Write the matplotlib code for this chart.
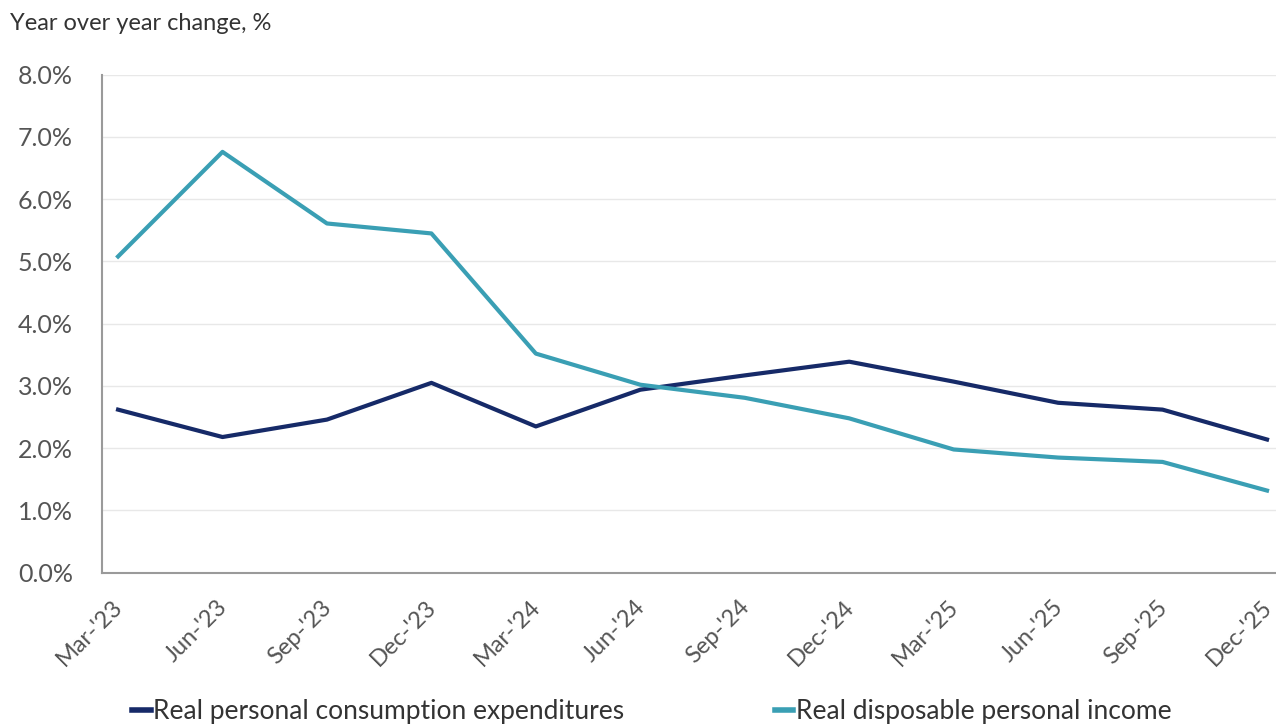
import matplotlib.pyplot as plt
from matplotlib.transforms import ScaledTranslation

# Quarterly year-over-year changes, %
quarters = ["Mar-'23", "Jun-'23", "Sep-'23", "Dec-'23", "Mar-'24", "Jun-'24",
            "Sep-'24", "Dec-'24", "Mar-'25", "Jun-'25", "Sep-'25", "Dec-'25"]
pce = [2.62, 2.18, 2.46, 3.05, 2.35, 2.94, 3.17, 3.39, 3.07, 2.73, 2.62, 2.14]
dpi_income = [5.08, 6.76, 5.61, 5.45, 3.52, 3.02, 2.81, 2.48, 1.98, 1.85, 1.78, 1.32]

navy = '#162a68'
teal = '#3a9fb4'

plt.rcParams['font.family'] = ['Lato', 'DejaVu Sans']

fig = plt.figure(figsize=(12.76, 7.25), dpi=100)
ax = fig.add_axes([0.080, 0.21, 0.92, 0.687])

x = range(len(quarters))
ax.plot(x, pce, color=navy, lw=3.0, label='Real personal consumption expenditures')
ax.plot(x, dpi_income, color=teal, lw=3.0, label='Real disposable personal income')

ax.set_ylim(0, 8)
ax.set_xlim(-0.153, 11.086)
ax.set_yticks(range(0, 9))
ax.set_yticklabels([f'{v:.1f}%' for v in range(0, 9)])
ax.set_xticks(list(x))
ax.set_xticklabels(quarters, rotation=45, ha='right', rotation_mode='anchor')
ax.tick_params(axis='both', length=0, colors='#555555')
ax.tick_params(axis='y', labelsize=18, pad=21)
ax.tick_params(axis='x', labelsize=17, pad=17)

# pull the slanted date labels slightly left so the last one stays on the canvas
shift = ScaledTranslation(-6 / 100, 0, fig.dpi_scale_trans)
for lbl in ax.get_xticklabels():
    lbl.set_transform(lbl.get_transform() + shift)

ax.grid(axis='y', color='#e8e8e8', lw=1)
ax.set_axisbelow(True)
for side in ['top', 'right']:
    ax.spines[side].set_visible(False)
for side in ['left', 'bottom']:
    ax.spines[side].set_color('#9a9a9a')
    ax.spines[side].set_linewidth(1.5)

fig.text(0.008, 0.967, 'Year over year change, %', fontsize=17, color='#333333',
         ha='left', va='center')

leg = fig.legend(loc='center left', bbox_to_anchor=(0.085, 0.018), ncol=2,
                 frameon=False, fontsize=19, handlelength=0.7, handletextpad=0.1,
                 columnspacing=5.7, labelcolor='#333333')
for line in leg.get_lines():
    line.set_linewidth(4)

fig.savefig('out.png', dpi=100)
